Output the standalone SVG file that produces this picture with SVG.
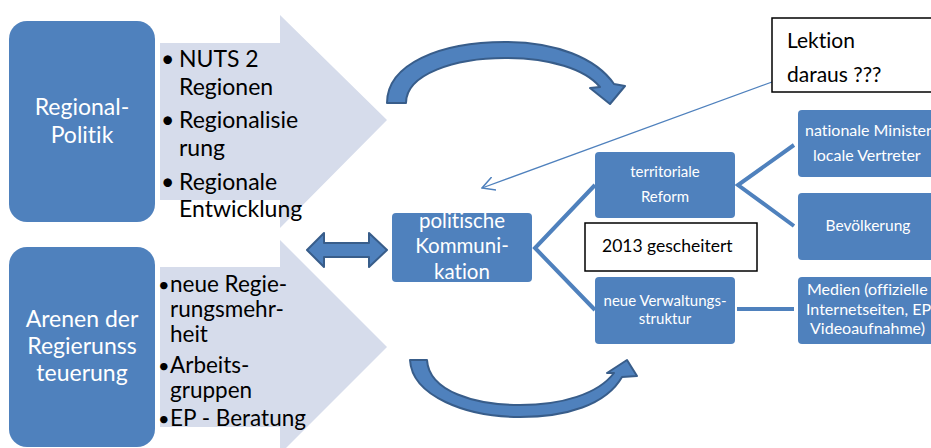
<svg xmlns="http://www.w3.org/2000/svg" width="931" height="448" viewBox="0 0 931 448">
<defs>
<style>
.big{fill:#4f81bd;}
.box{fill:#4f81bd;}
.light{fill:#d6dceb;}
.dark{fill:#4f81bd;stroke:#385d8a;stroke-width:2;stroke-linejoin:round;}
.conn{stroke:#4f81bd;stroke-width:4;fill:none;}
text{font-variant-ligatures:none;}
.wt{font-family:Lato,"Liberation Sans",sans-serif;fill:#ffffff;}
.bt{font-family:Lato,"Liberation Sans",sans-serif;fill:#000000;}
.note{fill:#ffffff;stroke:#000000;stroke-width:1.5;}
</style>
<marker id="open" viewBox="0 0 12 12" refX="11" refY="6" markerWidth="14" markerHeight="14" markerUnits="userSpaceOnUse" orient="auto">
<path d="M0,0 L11,6 L0,12" fill="none" stroke="#4f81bd" stroke-width="1.3"/>
</marker>
</defs>
<rect width="931" height="448" fill="#ffffff"/>

<g id="arrow-top-bg">
<path class="light" d="M160,43 L280,43 L280,15 L387,120 L280,228 L280,200 L160,200 Z"/>
</g>
<g id="arrow-bottom-bg">
<path class="light" d="M160,267 L280,267 L280,240 L387,347 L280,454 L280,427 L160,427 Z"/>
</g>

<g id="regionalpolitik">
<rect class="big" x="9" y="21" width="146" height="201" rx="18"/>
<text class="wt" font-size="23" text-anchor="middle"><tspan x="82" y="115">Regional-</tspan><tspan x="82" y="143">Politik</tspan></text>
</g>
<g id="bullets-top">
<text class="bt" font-size="23">
<tspan x="161" y="67">•</tspan><tspan x="179" y="67">NUTS 2</tspan>
<tspan x="179" y="95">Regionen</tspan>
<tspan x="161" y="128">•</tspan><tspan x="179" y="128">Regionalisie</tspan>
<tspan x="179" y="156">rung</tspan>
<tspan x="161" y="190">•</tspan><tspan x="179" y="190">Regionale</tspan>
<tspan x="179" y="217">Entwicklung</tspan>
</text>
</g>

<g id="arenen">
<rect class="big" x="9" y="247" width="146" height="200" rx="18"/>
<text class="wt" font-size="23" text-anchor="middle"><tspan x="82" y="327">Arenen der</tspan><tspan x="82" y="354">Regierunss</tspan><tspan x="82" y="381">teuerung</tspan></text>
</g>
<g id="bullets-bottom">
<text class="bt" font-size="20"><tspan x="158" y="292">•</tspan><tspan x="158" y="373">•</tspan><tspan x="158" y="426">•</tspan></text>
<text class="bt" font-size="22.5">
<tspan x="170" y="292">neue Regie-</tspan>
<tspan x="170" y="317">rungsmehr-</tspan>
<tspan x="170" y="342">heit</tspan>
<tspan x="170" y="373">Arbeits-</tspan>
<tspan x="170" y="398">gruppen</tspan>
<tspan x="170" y="426">EP - Beratung</tspan>
</text>
</g>

<g id="arc-top">
<path class="dark" d="M387,103 C387,64 440,42 505,42 C556,42 596,58 614,84 L625,86 L610,104 L590,88 L600,87 C585,69 550,58 505,58 C455,58 406,74 406,103 Z"/>
</g>
<g id="arc-bottom">
<path class="dark" d="M410,360 C412,396 466,417 520,417 C566,417 606,405 622,377 L637,376 L627,360 L607,373 L614,373 C598,394 562,405 520,405 C476,405 429,392 427,360 Z"/>
</g>
<g id="double-arrow">
<path class="dark" d="M307,250 L324,233 L324,243 L369,243 L369,233 L387,250 L369,267 L369,257 L324,257 L324,267 Z"/>
</g>

<g id="connectors">
<path class="conn" d="M595,185 L535,248 L595,310"/>
<path class="conn" d="M794,145 L738,185 L794,226"/>
<path class="conn" d="M737,309 L794,309"/>
<path d="M772,82 L482,188" fill="none" stroke="#4f81bd" stroke-width="1.3" marker-end="url(#open)"/>
</g>

<g id="politische-kommunikation">
<rect class="box" x="392" y="213" width="140" height="69" rx="4"/>
<text class="wt" font-size="20.5" text-anchor="middle"><tspan x="462" y="228">politische</tspan><tspan x="462" y="253">Kommuni-</tspan><tspan x="462" y="279">kation</tspan></text>
</g>

<g id="territoriale-reform">
<rect class="box" x="595" y="152" width="140" height="66" rx="4"/>
<text class="wt" font-size="15" text-anchor="middle"><tspan x="665" y="177">territoriale</tspan><tspan x="665" y="202">Reform</tspan></text>
</g>

<g id="gescheitert">
<rect class="note" x="585" y="223" width="172" height="48"/>
<text class="bt" font-size="17.5" x="602" y="252">2013 gescheitert</text>
</g>

<g id="neue-verwaltungsstruktur">
<rect class="box" x="595" y="277" width="140" height="67" rx="4"/>
<text class="wt" font-size="15" text-anchor="middle"><tspan x="665" y="306">neue Verwaltungs-</tspan><tspan x="665" y="324">struktur</tspan></text>
</g>

<g id="nationale">
<rect class="box" x="798" y="110" width="145" height="67" rx="4"/>
<text class="wt" font-size="16"><tspan x="805" y="136">nationale Minister</tspan><tspan x="813" y="161">locale Vertreter</tspan></text>
</g>

<g id="bevoelkerung">
<rect class="box" x="798" y="193" width="145" height="67" rx="4"/>
<text class="wt" font-size="15.5" text-anchor="middle" x="868" y="231">Bevölkerung</text>
</g>

<g id="medien">
<rect class="box" x="798" y="277" width="145" height="67" rx="4"/>
<text class="wt" font-size="16"><tspan x="807" y="295">Medien (offizielle</tspan><tspan x="806" y="315">Internetseiten, EP</tspan><tspan x="810" y="334">Videoaufnahme)</tspan></text>
</g>

<g id="lektion">
<rect class="note" x="772" y="18" width="170" height="74"/>
<text class="bt" font-size="21"><tspan x="787" y="48">Lektion</tspan><tspan x="787" y="82">daraus ???</tspan></text>
</g>
</svg>
